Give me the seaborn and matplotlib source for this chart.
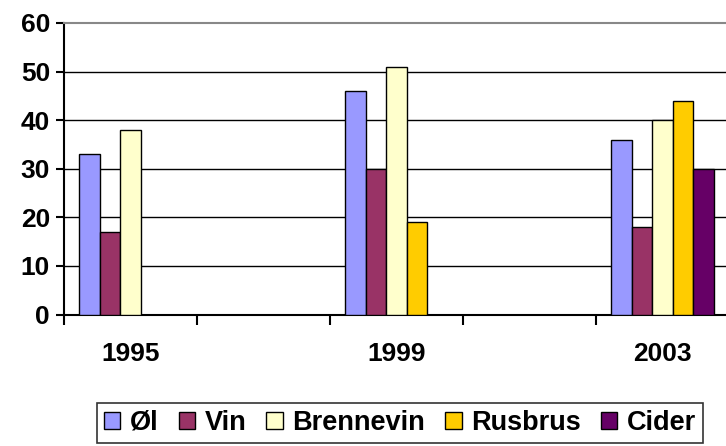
import numpy as np
import pandas as pd
import matplotlib
matplotlib.use("Agg")
import matplotlib.pyplot as plt
import seaborn as sns

# data
years = ["1995", "1999", "2003"]
slots = ["1995", "-a", "1999", "-b", "2003"]   # two empty slots between the years
drinks = ["Øl", "Vin", "Brennevin", "Rusbrus", "Cider"]
ol = [33, 46, 36]
vin = [17, 30, 18]
brennevin = [38, 51, 40]
rusbrus = [None, 19, 44]
cider = [None, None, 30]
colors = ["#9999FF", "#993366", "#FFFFCC", "#FFCC00", "#660066"]
yticks = [0, 10, 20, 30, 40, 50, 60]

rows = []
for name, vals in zip(drinks, [ol, vin, brennevin, rusbrus, cider]):
    for yr, v in zip(years, vals):
        if v is not None:
            rows.append({"year": yr, "drink": name, "value": v})
df = pd.DataFrame(rows)

sns.set_theme(style="white")
plt.rcParams["font.family"] = ["Liberation Sans", "DejaVu Sans"]
plt.rcParams["font.weight"] = "bold"
plt.rcParams["text.color"] = "black"
plt.rcParams["xtick.color"] = "black"
plt.rcParams["ytick.color"] = "black"

fig = plt.figure(figsize=(7.26, 4.46), dpi=100)
ax = fig.add_axes([64 / 726, 1 - 314.5 / 446, 665 / 726, 291.5 / 446])

sns.barplot(data=df, x="year", y="value", hue="drink", order=slots,
            hue_order=drinks, palette=dict(zip(drinks, colors)),
            saturation=1, width=0.77, edgecolor="black", linewidth=1.0,
            errorbar=None, ax=ax, zorder=3)

ax.set_xlim(-0.5, 4.5)
ax.set_ylim(0, 60)
ax.set_yticks(yticks)
ax.set_yticklabels([str(t) for t in yticks], fontsize=19, fontweight="bold",
                   color="black")
for t in yticks[1:-1]:
    ax.axhline(t, color="black", lw=1.0, zorder=1)

# ticks on category boundaries, labels centred on the year slots
ax.set_xticks(np.arange(-0.5, 5, 1.0))
ax.set_xticklabels([])
ax.set_xticks([slots.index(y) for y in years], minor=True)
ax.set_xticklabels(years, minor=True, fontsize=19, fontweight="bold",
                   color="black")
ax.tick_params(axis="x", which="major", direction="out", length=7, width=1.5,
               color="black", bottom=True)
ax.tick_params(axis="x", which="minor", length=0, pad=20)
ax.tick_params(axis="y", direction="out", length=6, width=1.5, color="black",
               left=True, pad=4)
ax.set_xlabel("")
ax.set_ylabel("")

for s in ["left", "bottom"]:
    ax.spines[s].set_color("black")
    ax.spines[s].set_linewidth(1.5)
ax.spines["top"].set_color("#888888")
ax.spines["top"].set_linewidth(1.5)
ax.spines["right"].set_visible(False)

handles, labels = ax.get_legend_handles_labels()
ax.get_legend().remove()
leg = fig.legend(handles, labels, ncol=5, loc="center",
                 bbox_to_anchor=(0.551, 0.0516), frameon=True, fancybox=False,
                 edgecolor="black", handlelength=0.6, handleheight=0.6,
                 handletextpad=0.35, columnspacing=0.75, borderpad=0.25,
                 borderaxespad=0.0, prop={"size": 19.5, "weight": "bold"})
leg.get_frame().set_linewidth(1.2)
for txt in leg.get_texts():
    txt.set_color("black")

fig.savefig("out.png", dpi=100)
